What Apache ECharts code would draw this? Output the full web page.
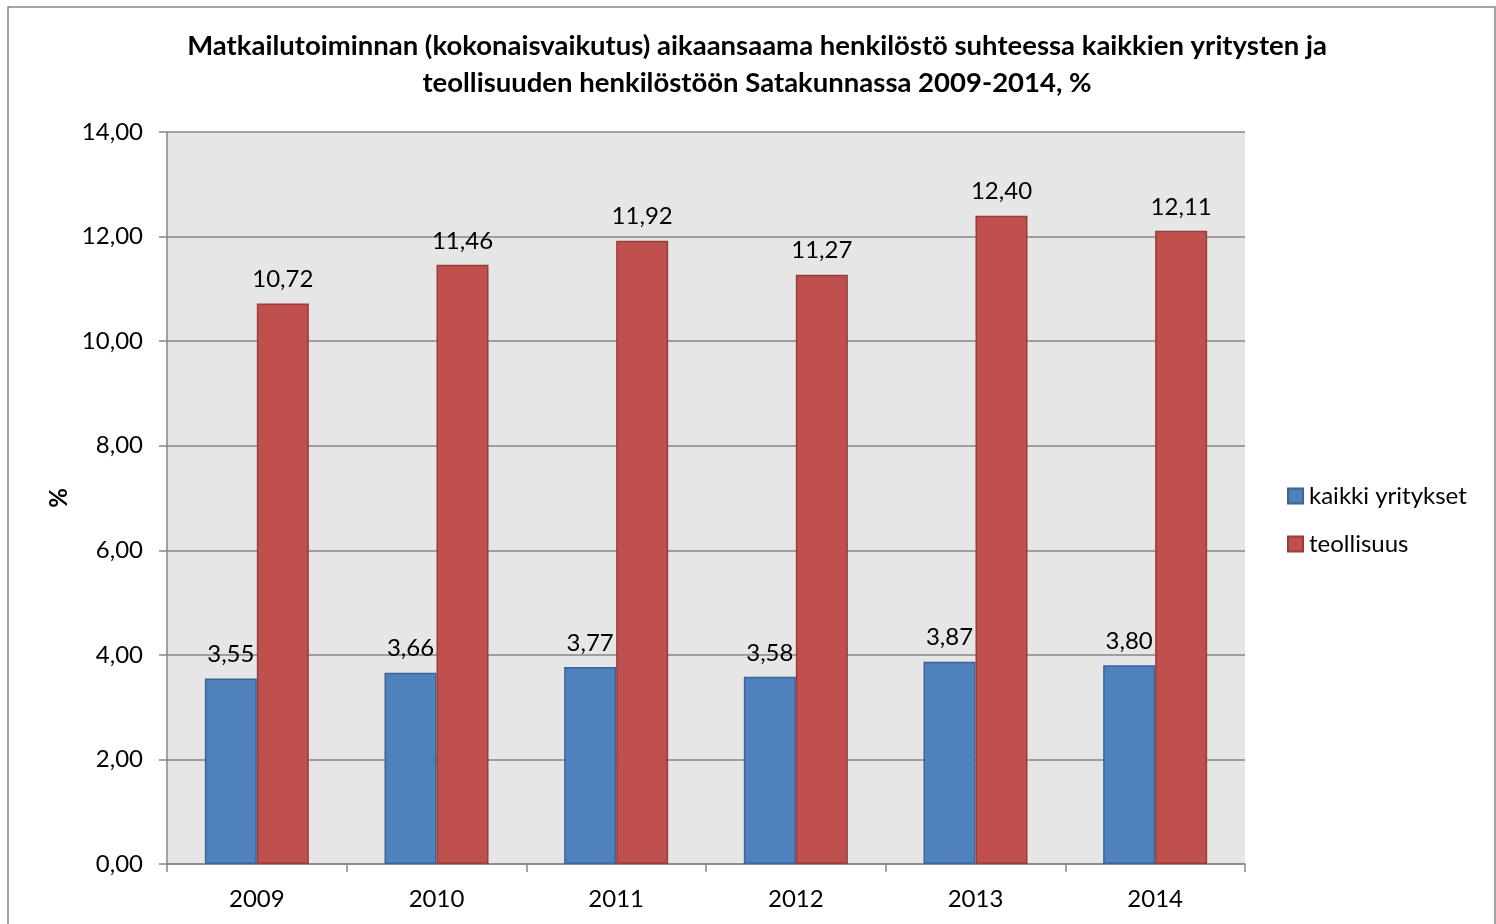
<!DOCTYPE html>
<html><head><meta charset="utf-8">
<script src="https://cdn.jsdelivr.net/npm/echarts@6/dist/echarts.min.js"></script>
<style>html,body{margin:0;padding:0;background:#fff}#c{width:1496px;height:924px}</style>
</head><body><div id="c"></div>
<script>
const categories = ['2009','2010','2011','2012','2013','2014'];
const kaikkiYritykset = [3.55, 3.66, 3.77, 3.58, 3.87, 3.80];
const teollisuus = [10.72, 11.46, 11.92, 11.27, 12.40, 12.11];
const seriesNames = ['kaikki yritykset', 'teollisuus'];
const yTicks = {min: 0, max: 14, interval: 2};
const titleText = 'Matkailutoiminnan (kokonaisvaikutus) aikaansaama henkilöstö suhteessa kaikkien yritysten ja\nteollisuuden henkilöstöön Satakunnassa 2009-2014, %';

const FONT = 'Lato, "Open Sans", sans-serif';
const fmt = v => v.toFixed(2).replace('.', ',');
const chart = echarts.init(document.getElementById('c'), null, {renderer: 'canvas'});
const lbl = {show: true, position: 'top', distance: 12, color: '#000', fontFamily: FONT, fontSize: 24,
  formatter: p => fmt(p.value)};
chart.setOption({
  animation: false,
  backgroundColor: '#fff',
  title: {text: titleText, left: 752, top: 23, textAlign: 'center',
    textStyle: {fontFamily: FONT, fontSize: 27.5, fontWeight: 'bold', color: '#000', lineHeight: 37}},
  graphic: [{type: 'rect', shape: {x: 8, y: 7, width: 1487, height: 930}, style: {fill: 'none', stroke: '#868686', lineWidth: 1.5}, silent: true}],
  legend: {orient: 'vertical', left: 1282, top: 479, itemWidth: 15, itemHeight: 15, itemGap: 24,
    icon: 'rect', textStyle: {fontFamily: FONT, fontSize: 24, color: '#000', padding: [0,0,0,1]},
    data: seriesNames},
  grid: {left: 167, right: 251, top: 132, bottom: 60, show: true, backgroundColor: '#e6e6e6', borderWidth: 0},
  xAxis: {type: 'category', data: categories,
    axisLine: {lineStyle: {color: '#868686', width: 1.5}},
    axisTick: {show: true, length: 8, lineStyle: {color: '#868686', width: 1.5}},
    axisLabel: {fontFamily: FONT, fontSize: 24, color: '#000', margin: 23}},
  yAxis: {type: 'value', min: yTicks.min, max: yTicks.max, interval: yTicks.interval,
    name: '%', nameLocation: 'middle', nameGap: 93, nameRotate: 90,
    nameTextStyle: {fontFamily: FONT, fontSize: 24, fontWeight: 'bold', color: '#000'},
    axisLine: {show: true, lineStyle: {color: '#868686', width: 1.5}},
    axisTick: {show: true, length: 8, lineStyle: {color: '#868686', width: 1.5}},
    splitLine: {lineStyle: {color: '#868686', width: 1.5}},
    axisLabel: {fontFamily: FONT, fontSize: 24, color: '#000', margin: 24, formatter: v => fmt(v)}},
  series: [
    {name: seriesNames[0], type: 'bar', data: kaikkiYritykset, barWidth: 52, barGap: '0%',
      itemStyle: {color: '#4f81bd', borderColor: '#3a649a', borderWidth: 1.5}, label: lbl},
    {name: seriesNames[1], type: 'bar', data: teollisuus, barWidth: 52,
      itemStyle: {color: '#c0504d', borderColor: '#963d3a', borderWidth: 1.5}, label: lbl}
  ]
});
</script></body></html>
